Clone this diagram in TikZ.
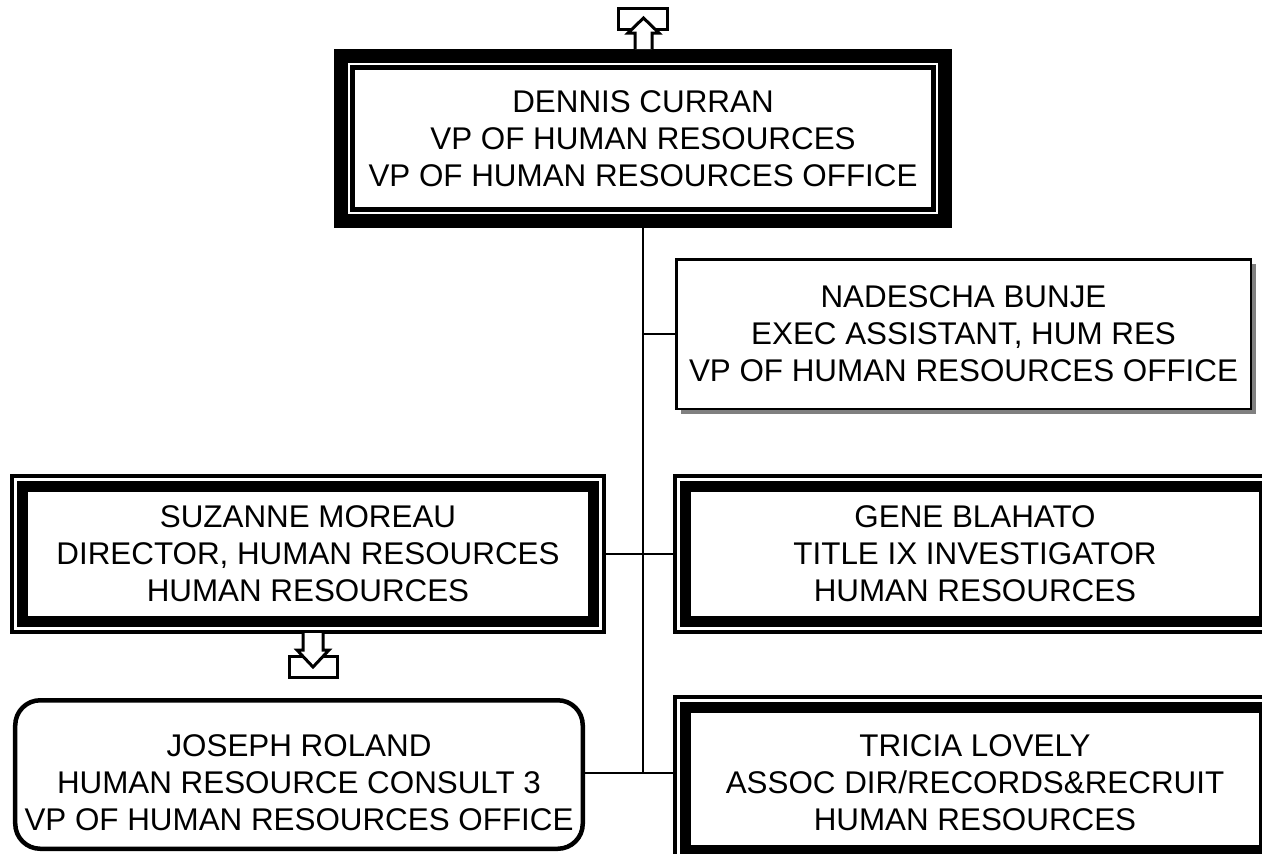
\documentclass[tikz,border=0pt]{standalone}
\usepackage{fontspec}
\setmainfont{Liberation Sans}
\usepackage{tikz}
\usetikzlibrary{calc,shadows}

\begin{document}
\begin{tikzpicture}[
    % thick outer frame, thin inner frame
    headbox/.style={draw, line width=0.28cm, align=center, inner sep=0pt,
        path picture={\draw[line width=0.1cm]
            ($(path picture bounding box.north west)+(0.23,-0.23)$) rectangle
            ($(path picture bounding box.south east)+(-0.23,0.23)$);}},
    % thin outer frame, thick inner frame
    unitbox/.style={draw, line width=0.08cm, align=center, inner sep=0pt,
        path picture={\draw[line width=0.22cm]
            ($(path picture bounding box.north west)+(0.21,-0.21)$) rectangle
            ($(path picture bounding box.south east)+(-0.21,0.21)$);}},
    staffbox/.style={draw, fill=white, line width=0.05cm, align=center, inner sep=0pt,
        drop shadow={shadow xshift=0.1cm, shadow yshift=-0.1cm, fill=gray, opacity=1}},
    roundbox/.style={draw, line width=0.09cm, rounded corners=0.5cm, inner sep=0pt},
    conn/.style={line width=0.05cm},
    toggle/.style={draw, fill=white, line width=0.06cm},
    every node/.style={font=\fontsize{17.85pt}{21.05pt}\selectfont}
]
    \useasboundingbox (0,0) rectangle (25.24,-17.06);
    \clip (0,0) rectangle (25.24,-17.06);
    % Boxes
    \node[headbox, minimum width=12.08cm, minimum height=3.30cm] (dennis) at (12.86,-2.77)
        {DENNIS CURRAN\\VP OF HUMAN RESOURCES\\VP OF HUMAN RESOURCES OFFICE};
    \node[staffbox, minimum width=11.49cm, minimum height=2.99cm] (nadescha) at (19.27,-6.68)
        {NADESCHA BUNJE\\EXEC ASSISTANT, HUM RES\\VP OF HUMAN RESOURCES OFFICE};
    \node[unitbox, minimum width=11.84cm, minimum height=3.12cm] (suzanne) at (6.16,-11.08)
        {SUZANNE MOREAU\\DIRECTOR, HUMAN RESOURCES\\HUMAN RESOURCES};
    \node[unitbox, minimum width=12.00cm, minimum height=3.12cm] (gene) at (19.50,-11.08)
        {GENE BLAHATO\\TITLE IX INVESTIGATOR\\HUMAN RESOURCES};
    \node[roundbox, minimum width=11.35cm, minimum height=2.97cm] (joseph) at (5.98,-15.49) {};
    \node[align=center, inner sep=0pt] (josephtext) at (5.98,-15.66)
        {JOSEPH ROLAND\\HUMAN RESOURCE CONSULT 3\\VP OF HUMAN RESOURCES OFFICE};
    \node[unitbox, minimum width=12.00cm, minimum height=3.28cm] (tricia) at (19.50,-15.58) {};
    \node[align=center, inner sep=0pt] (triciatext) at (19.50,-15.66)
        {TRICIA LOVELY\\ASSOC DIR/RECORDS\&RECRUIT\\HUMAN RESOURCES};
    % Connectors
    \coordinate (trunkend) at (12.86,-15.46);
    \draw[conn] (dennis.south) -- (trunkend);
    \draw[conn] (dennis.south |- nadescha.west) -- (nadescha.west);
    \draw[conn] (suzanne.east) -- (gene.west);
    \draw[conn] (joseph.east |- trunkend) -- (tricia.west |- trunkend);
    % Toggle above top box
    \draw[toggle] (12.36,-0.16) rectangle (13.34,-0.58);
    \draw[toggle] (12.70,-0.98) -- (12.70,-0.66) -- (12.56,-0.66) -- (12.87,-0.36)
        -- (13.18,-0.66) -- (13.04,-0.66) -- (13.04,-0.98);
    % Toggle below director box
    \draw[toggle] (5.78,-13.12) rectangle (6.74,-13.54);
    \draw[toggle] (6.06,-12.66) -- (6.06,-13.00) -- (5.94,-13.00) -- (6.26,-13.34)
        -- (6.58,-13.00) -- (6.46,-13.00) -- (6.46,-12.66);
\end{tikzpicture}
\end{document}
